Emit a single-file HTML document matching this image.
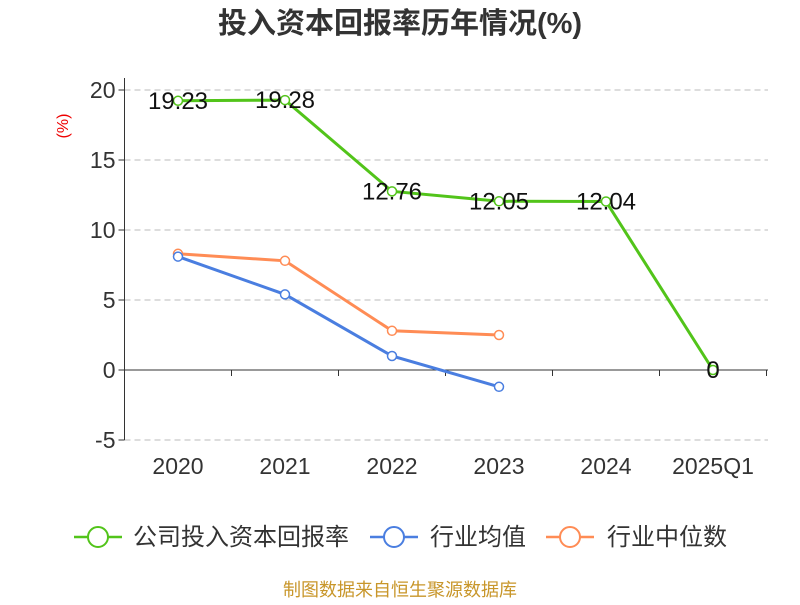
<!DOCTYPE html>
<html><head><meta charset="utf-8"><style>
body{margin:0;background:#fff;width:800px;height:600px;overflow:hidden;font-family:"Liberation Sans","Noto Sans CJK SC",sans-serif}
</style></head><body>
<svg width="800" height="600" xmlns="http://www.w3.org/2000/svg" font-family="Liberation Sans, Noto Sans CJK SC, sans-serif">
<text x="400" y="33" text-anchor="middle" font-size="29" font-weight="bold" fill="#333">投入资本回报率历年情况(%)</text>
<text x="0" y="0" transform="translate(68,126) rotate(-90)" text-anchor="middle" font-size="16" fill="#e00">(%)</text>
<g id="grid"></g><g id="axes"></g><g id="series"></g>
<g>
 <g><line x1="74" y1="537" x2="122" y2="537" stroke="#52c41a" stroke-width="2.5"/><circle cx="98" cy="537" r="10" fill="#fff" stroke="#52c41a" stroke-width="2"/><text x="133" y="545" font-size="24" fill="#333">公司投入资本回报率</text></g>
 <g><line x1="370" y1="537" x2="418" y2="537" stroke="#4a7ee0" stroke-width="2.5"/><circle cx="394" cy="537" r="10" fill="#fff" stroke="#4a7ee0" stroke-width="2"/><text x="430" y="545" font-size="24" fill="#333">行业均值</text></g>
 <g><line x1="546" y1="537" x2="594" y2="537" stroke="#ff8c55" stroke-width="2.5"/><circle cx="570" cy="537" r="10" fill="#fff" stroke="#ff8c55" stroke-width="2"/><text x="607" y="545" font-size="24" fill="#333">行业中位数</text></g>
</g>
<text x="400" y="596" text-anchor="middle" font-size="18" fill="#c8962a">制图数据来自恒生聚源数据库</text>
</svg>
<script>
const categories=["2020","2021","2022","2023","2024","2025Q1"];
const companyValues=[19.23,19.28,12.76,12.05,12.04,0];
const avgValues=[8.1,5.4,1.0,-1.2];
const medianValues=[8.3,7.8,2.8,2.5];
const yTicks=[-5,0,5,10,15,20];
const NS="http://www.w3.org/2000/svg";
const left=124.5,band=107,y0=370,k=14;
const xs=i=>left+band*(i+0.5);
const ys=v=>y0-v*k;
function mk(tag,attrs,parent){const e=document.createElementNS(NS,tag);for(const a in attrs)e.setAttribute(a,attrs[a]);parent.appendChild(e);return e;}
const grid=document.getElementById('grid'),axes=document.getElementById('axes'),series=document.getElementById('series');
yTicks.forEach(t=>{
 if(t!==0){const l=mk('line',{x1:left,x2:768,y1:ys(t),y2:ys(t),stroke:'#bbb','stroke-dasharray':'6,4'},grid);
 
 }
 const tk=mk('line',{x1:left-6,x2:left,y1:ys(t),y2:ys(t),stroke:'#333'},axes);
 
 
 const tx=mk('text',{x:left-9,y:ys(t)+8,'text-anchor':'end','font-size':23,fill:'#333'},axes);tx.textContent=t;
 
 
});
const ya=mk('line',{x1:left,x2:left,y1:ys(20)-12,y2:ys(-5),stroke:'#333'},axes);


const xa=mk('line',{x1:left,x2:768,y1:y0,y2:y0,stroke:'#333'},axes);


for(let i=0;i<=categories.length;i++){const t=mk('line',{x1:left+band*i,x2:left+band*i,y1:y0,y2:y0+6,stroke:'#333'},axes);
 
 }
categories.forEach((c,i)=>{const t=mk('text',{x:xs(i),y:474,'text-anchor':'middle','font-size':23,fill:'#333'},axes);t.textContent=c;
 
 });
function drawSeries(vals,color,name,labels){
 const g=mk('g',{},series);
 
 
 const pl=mk('polyline',{points:vals.map((v,i)=>xs(i)+','+ys(v)).join(' '),fill:'none',stroke:color,'stroke-width':3},g);
 
 
 vals.forEach((v,i)=>{const c=mk('circle',{cx:xs(i),cy:ys(v),r:4.5,fill:'#fff',stroke:color,'stroke-width':1.5},g);
  
  
  if(labels){const t=mk('text',{x:xs(i),y:ys(v)+8,'text-anchor':'middle','font-size':24,fill:'#111'},g);t.textContent=v;
   
   }
 });
}
drawSeries(medianValues,'#ff8c55','industry-median-series',false);
drawSeries(avgValues,'#4a7ee0','industry-avg-series',false);
drawSeries(companyValues,'#52c41a','company-roic-series',true);
</script>
</body></html>
